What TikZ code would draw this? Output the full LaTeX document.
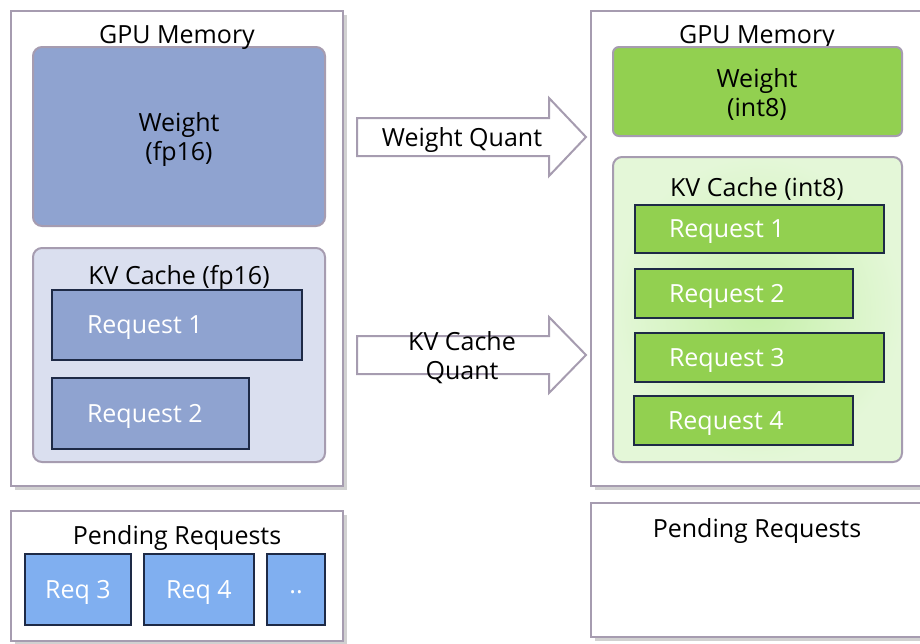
\documentclass[tikz,border=0pt]{standalone}
\usepackage{fontspec}
\setmainfont{Open Sans}
\usetikzlibrary{shadows}
\definecolor{bord}{RGB}{166,156,176}
\definecolor{wblue}{RGB}{143,163,208}
\definecolor{kvblue}{RGB}{218,223,239}
\definecolor{pblue}{RGB}{128,175,240}
\definecolor{gr}{RGB}{146,208,80}
\definecolor{reqline}{RGB}{30,42,70}
\definecolor{kvgin}{RGB}{198,240,170}
\definecolor{kvgout}{RGB}{228,247,216}
\begin{document}
\begin{tikzpicture}[x=1pt,y=-1pt,
  font=\fontsize{25}{29}\selectfont,
  every node/.style={inner sep=0pt, outer sep=0pt},
  box/.style={anchor=north west, rectangle},
  outer/.style={box, draw=bord, line width=2pt, fill=white,
    drop shadow={shadow xshift=4pt, shadow yshift=-4pt, fill=black!45, opacity=0.4}},
  innerbox/.style={box, draw=bord, line width=2pt, rounded corners=9pt},
  reqbox/.style={box, draw=reqline, line width=2pt},
  blockarrow/.style={draw=bord, line width=2pt, fill=white, line join=miter},
  whitetxt/.style={text=white},
  ttl/.style={text=black, align=center}
]
\useasboundingbox (0,0) rectangle (920,643);

% ---------- left side ----------
\node[outer, minimum width=332pt, minimum height=475pt] (gpuL) at (11,11) {};
\node[innerbox, fill=wblue, minimum width=292pt, minimum height=179pt] (wL) at (33,47) {};
\node[ttl] (wLt) at (179,140) {Weight\\(fp16)};
\node[ttl] (gpuLt) at (177,37) {GPU Memory};
\node[innerbox, fill=kvblue, minimum width=292pt, minimum height=214pt] (kvL) at (33,248) {};
\node[ttl] (kvLt) at (179,278) {KV Cache (fp16)};
\node[reqbox, fill=wblue, minimum width=250pt, minimum height=70pt] (r1L) at (52,290) {};
\node[whitetxt, anchor=west] (r1Lt) at ([xshift=35pt,yshift=-3pt]r1L.west) {Request 1};
\node[reqbox, fill=wblue, minimum width=197pt, minimum height=71pt] (r2L) at (52,378) {};
\node[whitetxt, anchor=west] (r2Lt) at ([xshift=35pt,yshift=-3pt]r2L.west) {Request 2};

\node[outer, minimum width=332pt, minimum height=130pt] (pendL) at (11,511) {};
\node[ttl] (pendLt) at (177,538) {Pending Requests};
\node[reqbox, fill=pblue, minimum width=106pt, minimum height=71pt] (q3) at (25,554) {};
\node[whitetxt] at ([yshift=-3pt]q3.center) (q3t) {Req 3};
\node[reqbox, fill=pblue, minimum width=110pt, minimum height=71pt] (q4) at (144,554) {};
\node[whitetxt] at ([yshift=-3pt]q4.center) (q4t) {Req 4};
\node[reqbox, fill=pblue, minimum width=58pt, minimum height=71pt] (qd) at (267,554) {};
\node[whitetxt] at ([yshift=-3pt]qd.center) (qdt) {..};

% ---------- arrows ----------
\draw[blockarrow] (357,118) -- (549,118) -- (549,98) -- (586,137) -- (549,176) -- (549,156) -- (357,156) -- cycle;
\node[ttl] (aw) at (462,140) {Weight Quant};
\draw[blockarrow] (357,336) -- (549,336) -- (549,317) -- (586,355) -- (549,393) -- (549,374) -- (357,374) -- cycle;
\node[ttl] (akv) at (462,358) {KV Cache\\Quant};

% ---------- right side ----------
\node[outer, minimum width=345pt, minimum height=475pt] (gpuR) at (591,11) {};
\node[ttl] (gpuRt) at (757,37) {GPU Memory};
\node[innerbox, rounded corners=6pt, fill=gr, minimum width=289pt, minimum height=89pt] (wR) at (613,47) {};
\node[ttl] (wRt) at (757,94) {Weight\\(int8)};
\node[innerbox, inner color=kvgin, outer color=kvgout, minimum width=289pt, minimum height=305pt] (kvR) at (613,157) {};
\node[ttl] (kvRt) at (757,189) {KV Cache (int8)};
\node[reqbox, fill=gr, minimum width=249pt, minimum height=48pt] (R1) at (635,205) {};
\node[whitetxt, anchor=west] (R1t) at ([xshift=34pt,yshift=-3pt]R1.west) {Request 1};
\node[reqbox, fill=gr, minimum width=218pt, minimum height=49pt] (R2) at (635,269) {};
\node[whitetxt, anchor=west] (R2t) at ([xshift=34pt,yshift=-3pt]R2.west) {Request 2};
\node[reqbox, fill=gr, minimum width=249pt, minimum height=49pt] (R3) at (635,333) {};
\node[whitetxt, anchor=west] (R3t) at ([xshift=34pt,yshift=-3pt]R3.west) {Request 3};
\node[reqbox, fill=gr, minimum width=219pt, minimum height=49pt] (R4) at (634,396) {};
\node[whitetxt, anchor=west] (R4t) at ([xshift=34pt,yshift=-3pt]R4.west) {Request 4};

\node[outer, minimum width=345pt, minimum height=134pt] (pendR) at (591,503) {};
\node[ttl] (pendRt) at (757,531) {Pending Requests};
\end{tikzpicture}
\end{document}
